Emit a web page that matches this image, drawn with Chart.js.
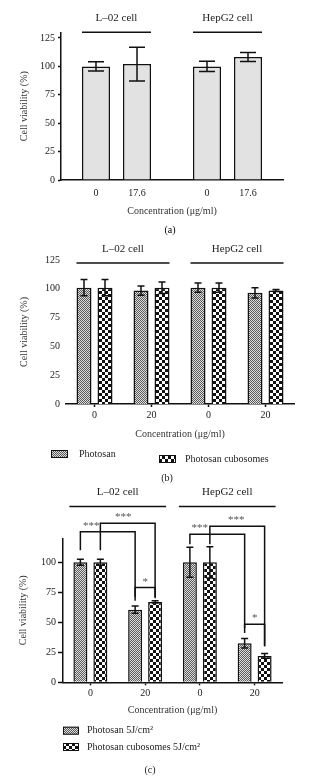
<!DOCTYPE html>
<html>
<head>
<meta charset="utf-8">
<script src="https://cdn.jsdelivr.net/npm/chart.js@4.4.1/dist/chart.umd.min.js"></script>
<style>
    html, body { margin: 0; padding: 0; background: #fff; }
    body { width: 335px; height: 783px; position: relative; overflow: hidden; }
    canvas { position: absolute; left: 0; }
</style>
</head>
<body>
<canvas id="chartA" width="335" height="240" style="top:0px"></canvas>
<canvas id="chartB" width="335" height="245" style="top:240px"></canvas>
<canvas id="chartC" width="335" height="298" style="top:485px"></canvas>
<script>
// (a) 데이터
const aGroups = ['L–02 cell', 'HepG2 cell'];
const aConcs = ['0', '17.6'];
const aMean0 = [100, 100];
const aErr0 = [4, 4.5];
const aMean17 = [102, 108.2];
const aErr17 = [14.8, 4];

// (b) 데이터
const bConcs = ['0', '20', '0', '20'];
const bGroups = ['L–02 cell', 'HepG2 cell'];
const bSeries = ['Photosan', 'Photosan cubosomes'];
const bPhotosan = [101, 98.5, 101, 96.5];
const bPhotosanErr = [7, 4, 4, 4.5];
const bCubo = [101, 101, 101, 98.5];
const bCuboErr = [7, 5, 4, 0.8];

// (c) 데이터
const cConcs = ['0', '20', '0', '20'];
const cGroups = ['L–02 cell', 'HepG2 cell'];
const cSeries = ['Photosan 5J/cm²', 'Photosan cubosomes 5J/cm²'];
const cPhotosan = [100, 60.5, 100, 32.5];
const cPhotosanErr = [2.5, 3, 12.5, 4];
const cCubo = [100, 67, 100, 22];
const cCuboErr = [2.5, 1, 13, 2];

// 유의성 표시 (막대 [데이터셋, 인덱스], 값 단위)
const cBrackets = [
    { text: '***', from: [0, 0], to: [0, 1], top: 125.5, ends: [110, 68], at: 0.2 },
    { text: '***', from: [1, 0], to: [1, 1], top: 132.5, ends: [110, 70], at: 0.42 },
    { text: '*', from: [0, 1], to: [1, 1], top: 79, ends: [71, 71], at: 0.5 },
    { text: '***', from: [0, 2], to: [0, 3], top: 123.3, ends: [115, 45], at: 0.18 },
    { text: '***', from: [1, 2], to: [1, 3], top: 130, ends: [115, 30], at: 0.48 },
    { text: '*', from: [0, 3], to: [1, 3], top: 48.3, ends: [41, 30], at: 0.5 }
];

const FONT = "'Liberation Serif', 'DejaVu Serif', serif";
const INK = '#111';
Chart.defaults.font.family = FONT;
Chart.defaults.font.size = 10;
Chart.defaults.color = '#222';

// 체크 무늬 패턴
function makePattern(cell, dark, light) {
    const c = document.createElement('canvas');
    c.width = c.height = cell * 2;
    const g = c.getContext('2d');
    g.fillStyle = light;
    g.fillRect(0, 0, cell * 2, cell * 2);
    g.fillStyle = dark;
    g.fillRect(0, 0, cell, cell);
    g.fillRect(cell, cell, cell, cell);
    return g.createPattern(c, 'repeat');
}
const finePattern = makePattern(1, '#5c5c5c', '#dcdcdc');
const coarsePattern = makePattern(3, '#111111', '#ffffff');

// 오차 막대
const errorBarPlugin = {
    id: 'errorBars',
    afterDatasetsDraw(chart, args, opts) {
        const ctx = chart.ctx;
        const y = chart.scales.y;
        const half = opts.cap / 2;
        ctx.save();
        ctx.strokeStyle = INK;
        ctx.lineWidth = 1.5;
        chart.data.datasets.forEach((ds, i) => {
            chart.getDatasetMeta(i).data.forEach((bar, j) => {
                const top = y.getPixelForValue(ds.data[j] + ds.errors[j]);
                const bot = y.getPixelForValue(ds.data[j] - ds.errors[j]);
                ctx.beginPath();
                ctx.moveTo(bar.x, top); ctx.lineTo(bar.x, bot);
                ctx.moveTo(bar.x - half, top); ctx.lineTo(bar.x + half, top);
                ctx.moveTo(bar.x - half, bot); ctx.lineTo(bar.x + half, bot);
                ctx.stroke();
            });
        });
        ctx.restore();
    }
};

// 세포주 그룹 라벨
const groupLabelPlugin = {
    id: 'groupLabels',
    afterDraw(chart, args, opts) {
        const ctx = chart.ctx;
        const y = chart.scales.y.getPixelForValue(opts.lineValue);
        const first = chart.getDatasetMeta(0);
        const last = chart.getDatasetMeta(chart.data.datasets.length - 1);
        ctx.save();
        ctx.strokeStyle = INK;
        ctx.lineWidth = 1.5;
        ctx.fillStyle = '#222';
        ctx.font = `${opts.size}px ${FONT}`;
        ctx.textAlign = 'center';
        ctx.textBaseline = 'middle';
        opts.groups.forEach(g => {
            const a = first.data[g.from];
            const b = last.data[g.to];
            const x1 = a.x - a.width / 2 - opts.extend;
            const x2 = b.x + b.width / 2 + opts.extend;
            ctx.beginPath();
            ctx.moveTo(x1, y); ctx.lineTo(x2, y);
            ctx.stroke();
            ctx.fillText(g.label, (x1 + x2) / 2, y - 14);
        });
        ctx.restore();
    }
};

// 막대 아래 농도 라벨 (a)
const barLabelPlugin = {
    id: 'barLabels',
    afterDraw(chart, args, opts) {
        const ctx = chart.ctx;
        ctx.save();
        ctx.fillStyle = '#222';
        ctx.font = `10px ${FONT}`;
        ctx.textAlign = 'center';
        ctx.textBaseline = 'middle';
        chart.data.datasets.forEach((ds, i) => {
            chart.getDatasetMeta(i).data.forEach(bar => {
                ctx.fillText(ds.label, bar.x, chart.chartArea.bottom + opts.offset);
            });
        });
        ctx.restore();
    }
};

// 범례와 패널 캡션
const noteLegendPlugin = {
    id: 'noteLegend',
    afterDraw(chart, args, opts) {
        const ctx = chart.ctx;
        ctx.save();
        ctx.font = `10px ${FONT}`;
        ctx.textBaseline = 'middle';
        (opts.items || []).forEach((it, i) => {
            const ds = chart.data.datasets[i];
            ctx.fillStyle = ds.backgroundColor;
            ctx.fillRect(it.x, it.y - opts.box[1] / 2, opts.box[0], opts.box[1]);
            ctx.strokeStyle = INK;
            ctx.lineWidth = 1;
            ctx.strokeRect(it.x + 0.5, it.y - opts.box[1] / 2 + 0.5, opts.box[0] - 1, opts.box[1] - 1);
            ctx.fillStyle = '#222';
            ctx.textAlign = 'left';
            ctx.fillText(ds.label, it.tx, it.y);
        });
        ctx.textAlign = 'center';
        ctx.fillText(opts.caption.text, opts.caption.x, opts.caption.y);
        ctx.restore();
    }
};

// 유의성 괄호 (c)
const bracketPlugin = {
    id: 'brackets',
    afterDraw(chart, args, opts) {
        const ctx = chart.ctx;
        const y = chart.scales.y;
        ctx.save();
        ctx.strokeStyle = INK;
        ctx.lineWidth = 1.5;
        ctx.fillStyle = '#555';
        ctx.font = `11px ${FONT}`;
        ctx.textAlign = 'center';
        ctx.textBaseline = 'alphabetic';
        opts.items.forEach(b => {
            const xa = chart.getDatasetMeta(b.from[0]).data[b.from[1]].x;
            const xb = chart.getDatasetMeta(b.to[0]).data[b.to[1]].x;
            const top = y.getPixelForValue(b.top);
            ctx.beginPath();
            ctx.moveTo(xa, y.getPixelForValue(b.ends[0]));
            ctx.lineTo(xa, top);
            ctx.lineTo(xb, top);
            ctx.lineTo(xb, y.getPixelForValue(b.ends[1]));
            ctx.stroke();
            ctx.fillText(b.text, xa + (xb - xa) * b.at, top - 3);
        });
        ctx.restore();
    }
};

function yAxis(max, width, tickLen, pad, showLine) {
    return {
        min: 0,
        max: max,
        ticks: { stepSize: 25, includeBounds: false, padding: pad, color: '#222' },
        grid: { display: showLine, drawOnChartArea: false, drawTicks: showLine, tickLength: tickLen, tickColor: INK, tickWidth: 1.5 },
        border: { display: showLine, color: INK, width: 1.5 },
        title: { display: true, text: 'Cell viability (%)', padding: 0, color: '#333' },
        afterFit: s => { s.width = width; }
    };
}

function xAxis(height, showTicks) {
    return {
        ticks: { display: showTicks, padding: 2, color: '#222' },
        grid: { display: showTicks, offset: false, drawOnChartArea: false, tickLength: 3, tickColor: INK, tickWidth: 1.5 },
        border: { display: true, color: INK, width: 1.5 },
        title: { display: true, text: 'Concentration (μg/ml)', padding: 0, color: '#333' },
        afterFit: s => { s.height = height; }
    };
}

const baseOptions = {
    responsive: false,
    animation: false,
    events: []
};

// (a) 차트
new Chart(document.getElementById('chartA'), {
    type: 'bar',
    data: {
        labels: aGroups,
        datasets: [
            { label: aConcs[0], data: aMean0, errors: aErr0, backgroundColor: '#e2e2e2', borderColor: INK, borderWidth: 1.5, categoryPercentage: 0.739, barPercentage: 0.683 },
            { label: aConcs[1], data: aMean17, errors: aErr17, backgroundColor: '#e2e2e2', borderColor: INK, borderWidth: 1.5, categoryPercentage: 0.739, barPercentage: 0.683 }
        ]
    },
    options: {
        ...baseOptions,
        layout: { padding: { left: 18, right: 52, top: 32.3, bottom: 23 } },
        plugins: {
            legend: { display: false },
            tooltip: { enabled: false },
            errorBars: { cap: 16 },
            groupLabels: { lineValue: 130, extend: 0, size: 11, groups: [
                { label: aGroups[0], from: 0, to: 0 },
                { label: aGroups[1], from: 1, to: 1 }
            ] },
            barLabels: { offset: 13 },
            noteLegend: { items: [], box: [0, 0], caption: { text: '(a)', x: 170, y: 230 } }
        },
        scales: {
            x: xAxis(37, false),
            y: yAxis(130, 43, 3, 3, true)
        }
    },
    plugins: [errorBarPlugin, groupLabelPlugin, barLabelPlugin, noteLegendPlugin]
});

// (b) 차트
new Chart(document.getElementById('chartB'), {
    type: 'bar',
    data: {
        labels: bConcs,
        datasets: [
            { label: bSeries[0], data: bPhotosan, errors: bPhotosanErr, backgroundColor: finePattern, borderColor: INK, borderWidth: 1.5, categoryPercentage: 0.737, barPercentage: 0.714 },
            { label: bSeries[1], data: bCubo, errors: bCuboErr, backgroundColor: coarsePattern, borderColor: INK, borderWidth: 1.5, categoryPercentage: 0.737, barPercentage: 0.714 }
        ]
    },
    options: {
        ...baseOptions,
        layout: { padding: { left: 18, right: 41, top: 20, bottom: 45 } },
        plugins: {
            legend: { display: false },
            tooltip: { enabled: false },
            errorBars: { cap: 7 },
            groupLabels: { lineValue: 122.4, extend: 0, size: 11, groups: [
                { label: bGroups[0], from: 0, to: 1 },
                { label: bGroups[1], from: 2, to: 3 }
            ] },
            noteLegend: {
                box: [17, 8],
                items: [{ x: 51, y: 214, tx: 79 }, { x: 159, y: 219, tx: 185 }],
                caption: { text: '(b)', x: 167, y: 238 }
            }
        },
        scales: {
            x: xAxis(36, true),
            y: yAxis(125, 48, 0, 6, false)
        }
    },
    plugins: [errorBarPlugin, groupLabelPlugin, noteLegendPlugin]
});

// (c) 차트
new Chart(document.getElementById('chartC'), {
    type: 'bar',
    data: {
        labels: cConcs,
        datasets: [
            { label: cSeries[0], data: cPhotosan, errors: cPhotosanErr, backgroundColor: finePattern, borderColor: INK, borderWidth: 1.5, categoryPercentage: 0.73, barPercentage: 0.7 },
            { label: cSeries[1], data: cCubo, errors: cCuboErr, backgroundColor: coarsePattern, borderColor: INK, borderWidth: 1.5, categoryPercentage: 0.73, barPercentage: 0.7 }
        ]
    },
    options: {
        ...baseOptions,
        layout: { padding: { left: 17, right: 53, top: 53.3, bottom: 66.7 } },
        plugins: {
            legend: { display: false },
            tooltip: { enabled: false },
            errorBars: { cap: 7 },
            groupLabels: { lineValue: 146.5, extend: 4, size: 11, groups: [
                { label: cGroups[0], from: 0, to: 1 },
                { label: cGroups[1], from: 2, to: 3 }
            ] },
            brackets: { items: cBrackets },
            noteLegend: {
                box: [16, 8],
                items: [{ x: 63, y: 245.7, tx: 87 }, { x: 63, y: 262, tx: 87 }],
                caption: { text: '(c)', x: 150, y: 285 }
            }
        },
        scales: {
            x: xAxis(34, true),
            y: yAxis(120, 46, 5, 2, true)
        }
    },
    plugins: [errorBarPlugin, groupLabelPlugin, bracketPlugin, noteLegendPlugin]
});
</script>
</body>
</html>
